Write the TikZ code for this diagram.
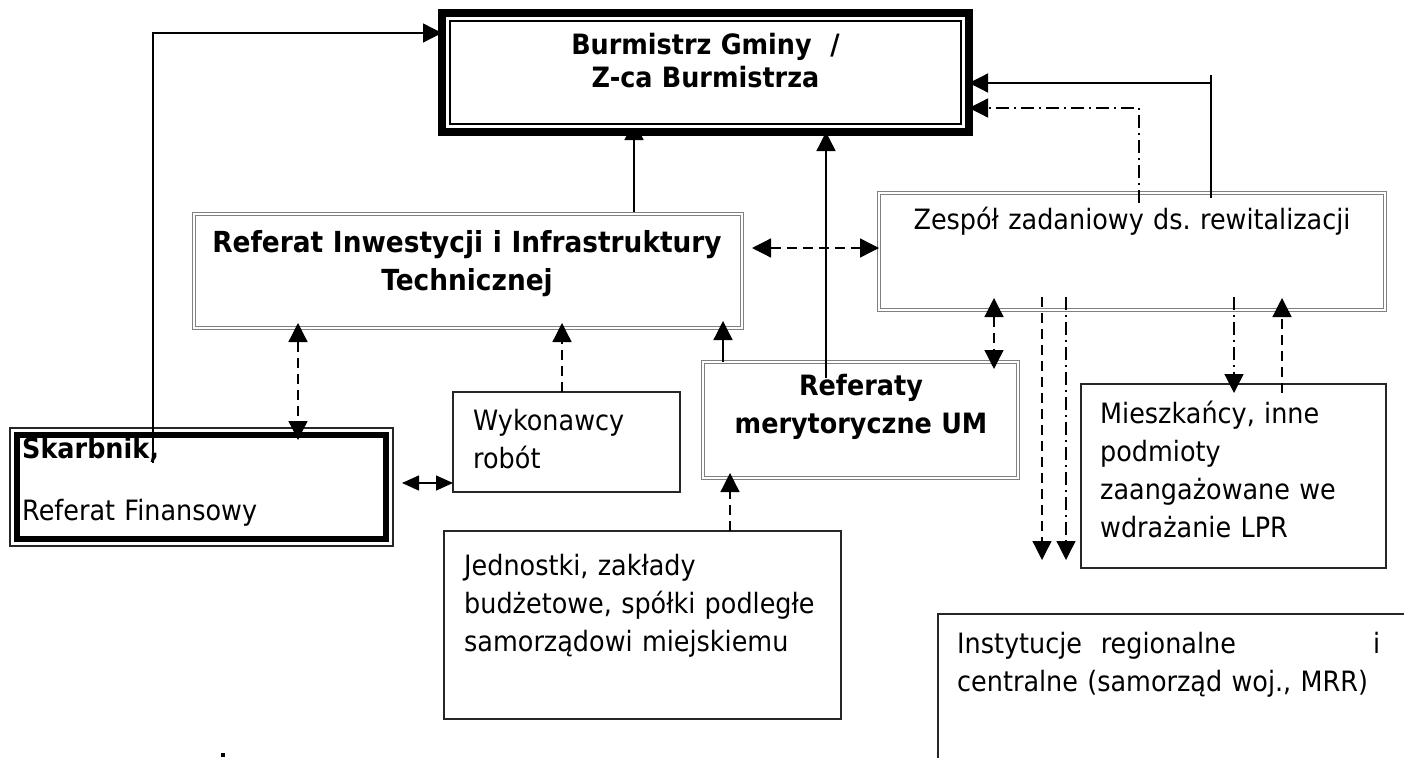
\documentclass[tikz,border=0pt]{standalone}
\usepackage{fontspec}
\setmainfont{DejaVu Sans}[FakeStretch=0.91]
\usetikzlibrary{arrows.meta,positioning,calc}
\pgfdeclarelayer{background}
\pgfsetlayers{background,main}
\newcommand{\txtsize}{\fontsize{28}{38}\selectfont}
\frenchspacing

\begin{document}
\begin{tikzpicture}[x=1pt,y=-1pt,
  box/.style={draw=black!85,line width=1.2pt,inner sep=0pt,outer sep=0pt,anchor=north west},
  dbox/.style={box,draw=black!50,double=white,double distance=1.5pt,line width=0.9pt},
  ltxt/.style={inner sep=0pt,anchor=base west,text width=#1,align=left,font=\txtsize},
  ctxt/.style={inner sep=0pt,anchor=base,text width=#1,align=center,font=\txtsize},
  con/.style={line width=1.3pt},
  arr/.style={con,-{Triangle[length=19pt,width=19pt]}},
  darr/.style={con,{Triangle[length=19pt,width=19pt]}-{Triangle[length=19pt,width=19pt]}},
  dsh/.style={dash pattern=on 10pt off 6pt},
  dshdot/.style={dash pattern=on 13pt off 5pt on 2pt off 5pt},
  tipa/.style={shorten <=-#1},
  tipb/.style={shorten >=-#1}]
\useasboundingbox (0,0) rectangle (1404,757);
\clip (0,0) rectangle (1404,757);

% ramki
\node[box,draw=black,fill=white,line width=8pt,minimum width=527,minimum height=119] (burm) at (442,13) {};
\draw[line width=1.5pt] ([shift={(8,8)}]burm.north west) rectangle ([shift={(-8,-8)}]burm.south east);
\node[dbox,minimum width=548,minimum height=114] (refinw) at (194,214) {};
\node[dbox,minimum width=506,minimum height=117] (zesp) at (879,193) {};
\node[dbox,minimum width=315,minimum height=116] (refmer) at (703,362) {};
\node[box,minimum width=227,minimum height=100] (wykon) at (453,392) {};
\node[box,minimum width=383,minimum height=118] (skarb) at (10,428) {};
\draw[line width=6.5pt] ([shift={(7,7)}]skarb.north west) rectangle ([shift={(-7,-7)}]skarb.south east);
\node[box,minimum width=305,minimum height=184] (miesz) at (1081,384) {};
\node[box,minimum width=397,minimum height=188] (jedn) at (444,531) {};
\node[box,minimum width=500,minimum height=200] (instyt) at (938,614) {};

% teksty
\node[ctxt=520,font=\fontsize{28}{33}\selectfont\bfseries] (burmT) at (705.5,55) {Burmistrz Gminy\ \ /\\Z-ca Burmistrza};
\node[ctxt=540,font=\fontsize{29}{38}\selectfont\bfseries] (refinwT) at (467,252) {Referat Inwestycji i Infrastruktury\\Technicznej};
\node[ctxt=500] (zespT) at (1132,229) {Zespół zadaniowy ds. rewitalizacji};
\node[ctxt=310,font=\txtsize\bfseries] (refmerT) at (861,395) {Referaty\\merytoryczne UM};
\node[ltxt=200] (wykonT) at (473,430) {Wykonawcy\\robót};
\node[ltxt=370,font=\txtsize\bfseries] (skarbT) at (22,458) {Skarbnik,};
\node[ltxt=370] (skarbT2) at (22,520) {Referat Finansowy};
\node[ltxt=280] (mieszT) at (1100,423) {Mieszkańcy, inne\\podmioty\\zaangażowane we\\wdrażanie LPR};
\node[ltxt=400] (jednT) at (464,575) {Jednostki, zakłady\\budżetowe, spółki podległe\\samorządowi miejskiemu};
\node[ltxt=423] (instytT) at (957,653) {Instytucje\ \ regionalne\hfill i\\centralne (samorząd woj., MRR)};

% polaczenia
\coordinate (skIn) at (153,463);
\draw[arr] (skIn) |- ([yshift=39.5pt]burm.west);
\begin{pgfonlayer}{background}
\draw[arr,tipb=11pt] (refinw.north -| 634,0) -- (burm.south -| 634,0);
\end{pgfonlayer}
\coordinate (rmIn) at (826,378);
\draw[arr] (rmIn) -- (burm.south -| rmIn);
\draw[arr,tipb=7pt] (refmer.north -| 723,0) -- (refinw.south -| 723,0);
\draw[darr,dsh,shorten <=10pt] (refinw.east |- 0,248) -- (zesp.west |- 0,248);
\coordinate (zT) at (1211,75);
\draw[con] ($(zesp.north -| zT)+(0,5)$) -- (zT);
\draw[arr] (zT |- 0,83) -- (burm.east |- 0,83);
\draw[arr,dshdot] ($(zesp.north -| 1139,0)+(0,10)$) |- (burm.east |- 0,108);
\draw[darr,dsh,tipa=5pt,tipb=12pt] (refinw.south -| 298,0) -- (skarb.north -| 298,0);
\draw[arr,dsh,tipb=5pt] (wykon.north -| 562,0) -- (refinw.south -| 562,0);
\draw[con,{Triangle[length=17pt,width=15pt]}-{Triangle[length=17pt,width=15pt]},shorten <=9pt] (skarb.east |- 0,483) -- (wykon.west |- 0,483);
\draw[darr,dsh,tipa=12pt,tipb=7pt] (zesp.south -| 994,0) -- (refmer.north -| 994,0);
\coordinate (dn1) at (1042,560);
\coordinate (dn2) at (1066,560);
\draw[arr,dsh,tipa=13pt] (zesp.south -| dn1) -- (dn1);
\draw[arr,dshdot,tipa=13pt] (zesp.south -| dn2) -- (dn2);
\draw[arr,dshdot,tipa=13pt,tipb=9pt] (zesp.south -| 1234,0) -- (miesz.north -| 1234,0);
\draw[arr,dsh,tipa=9pt,tipb=12pt] (miesz.north -| 1282,0) -- (zesp.south -| 1282,0);
\draw[arr,dsh,tipb=5pt] (jedn.north -| 730,0) -- (refmer.south -| 730,0);
\fill (221,753) rectangle (225,757);
\end{tikzpicture}
\end{document}
